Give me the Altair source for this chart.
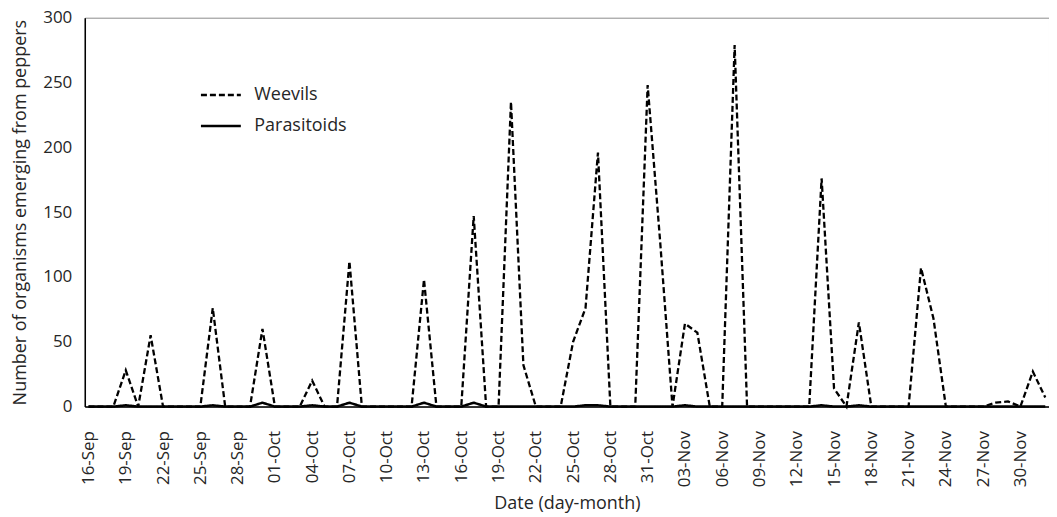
import altair as alt
import pandas as pd

# Daily dates 16-Sep .. 02-Dec
dates = [d.strftime("%d-%b") for d in pd.date_range("2021-09-16", "2021-12-02")]

weevils = [0, 0, 0, 28, 0, 55, 0, 0, 0, 0,
           76, 0, 0, 0, 60, 0, 0, 0, 20, 0,
           0, 112, 0, 0, 0, 0, 0, 98, 0, 0,
           0, 147, 0, 0, 235, 32, 0, 0, 0, 50,
           76, 196, 0, 0, 0, 248, 128, 0, 64, 57,
           0, 0, 279, 0, 0, 0, 0, 0, 0, 176,
           14, 0, 65, 0, 0, 0, 0, 107, 68, 0,
           0, 0, 0, 3, 4, 0, 27, 7]

parasitoids = [0, 0, 0, 1, 0, 0, 0, 0, 0, 0,
               1, 0, 0, 0, 3, 0, 0, 0, 1, 0,
               0, 3, 0, 0, 0, 0, 0, 3, 0, 0,
               0, 3, 0, 0, 0, 0, 0, 0, 0, 0,
               1, 1, 0, 0, 0, 0, 0, 0, 1, 0,
               0, 0, 0, 0, 0, 0, 0, 0, 0, 1,
               0, 0, 1, 0, 0, 0, 0, 0, 0, 0,
               0, 0, 0, 0, 0, 0, 0, 0]

series_names = ["Weevils", "Parasitoids"]
y_ticks = [0, 50, 100, 150, 200, 250, 300]
x_ticks = dates[::3]

rows = []
for name, vals in zip(series_names, [weevils, parasitoids]):
    for d, v in zip(dates, vals):
        rows.append({"date": d, "series": name, "value": v})
df = pd.DataFrame(rows)

FONT = "Open Sans"
TXT = "#262626"

chart = alt.Chart(df).mark_line(color="black").encode(
    x=alt.X("date:O", sort=dates,
            scale=alt.Scale(type="point", padding=0.3),
            axis=alt.Axis(values=x_ticks, labelAngle=-90, title="Date (day-month)",
                          labelPadding=24, titlePadding=8, ticks=False,
                          labelAlign="right", labelBaseline="middle")),
    y=alt.Y("value:Q", scale=alt.Scale(domain=[0, 300], nice=False),
            axis=alt.Axis(values=y_ticks, title="Number of organisms emerging from peppers",
                          ticks=False, labelPadding=13, titlePadding=13)),
    strokeDash=alt.StrokeDash("series:N",
                              scale=alt.Scale(domain=series_names, range=[[6, 3], [1, 0]]),
                              legend=alt.Legend(title=None, orient="none", legendX=115, legendY=56,
                                                symbolType="stroke", symbolSize=1600,
                                                symbolStrokeWidth=2.2, symbolStrokeColor="black",
                                                labelFontSize=18, labelFont=FONT, labelColor=TXT,
                                                labelOffset=12, rowPadding=-8)),
    strokeWidth=alt.StrokeWidth("series:N",
                                scale=alt.Scale(domain=series_names, range=[2.3, 2.5]),
                                legend=None),
).properties(
    width=967, height=390,
    padding={"left": 77, "top": 9, "right": 0, "bottom": 108},
    autosize=alt.AutoSizeParams(type="none"),
).configure_view(
    stroke="#8c8c8c", strokeWidth=1
).configure_axis(
    grid=False, domainColor="black", domainWidth=1.5,
    labelFont=FONT, labelFontSize=17, labelColor=TXT,
    titleFont=FONT, titleFontSize=18, titleColor=TXT, titleFontWeight="normal",
)

chart.save("out.html", embed_options={"renderer": "svg", "actions": False})
